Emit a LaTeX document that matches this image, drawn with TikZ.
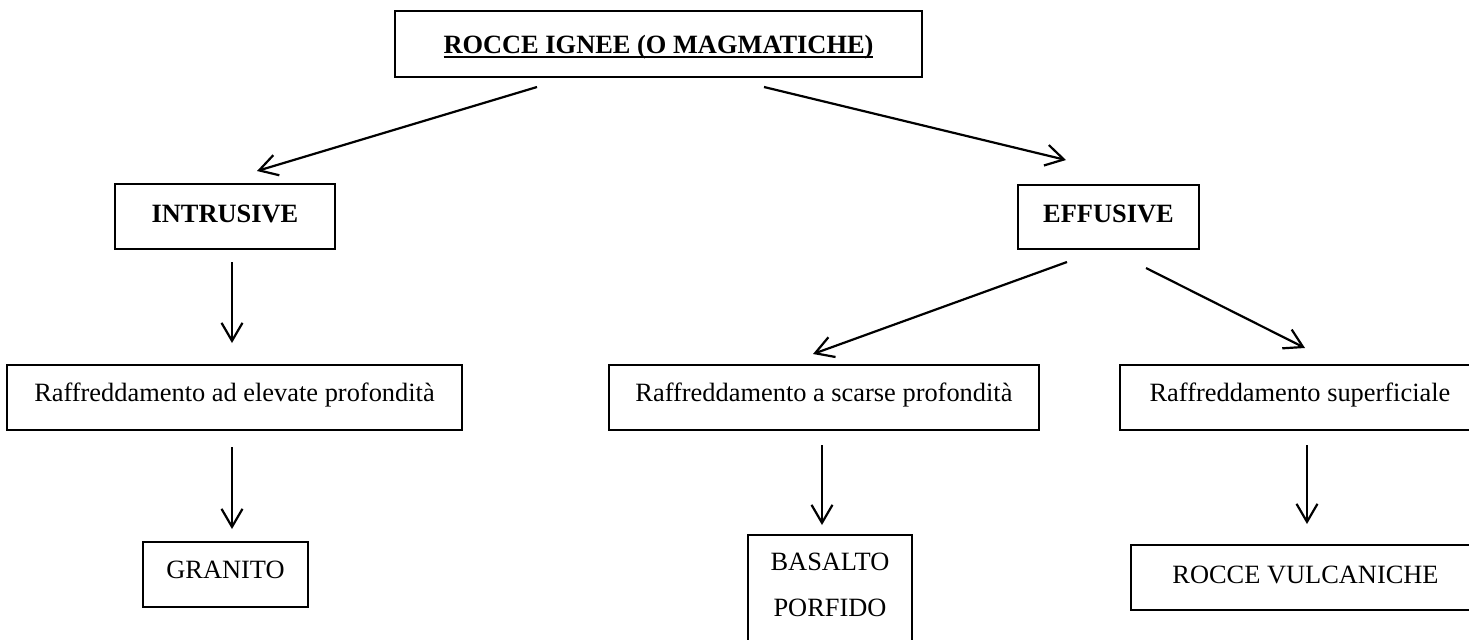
\documentclass[tikz,border=0pt]{standalone}
\usepackage{fontspec}
\setmainfont{Liberation Serif}
\usetikzlibrary{arrows.meta}

\newcommand{\ulbf}[1]{\setbox0\hbox{\bfseries #1}\rlap{\rule[-2.6pt]{\wd0}{1pt}}\box0}

\begin{document}
\begin{tikzpicture}[x=0.5pt,y=-0.5pt,
  box/.style={draw,line width=0.6pt,inner sep=0pt,anchor=base,
    font=\fontsize{13.2}{16}\selectfont},
  bold/.style={font=\fontsize{13.2}{16}\selectfont\bfseries},
  mid/.style={text height=18pt,text depth=14.5pt},
  arr/.style={line width=1.1pt,-{Straight Barb[length=9pt,width=10.5pt]}}]
\useasboundingbox (0,0) rectangle (1469,639);
\clip (0,0) rectangle (1469,639);

% boxes
\node[box,bold,minimum width=263.5pt,text height=21pt,text depth=12pt] (rocce) at (658.5,53) {\ulbf{ROCCE IGNEE (O MAGMATICHE)}};
\node[box,bold,minimum width=110pt,text height=19pt,text depth=13.5pt] (intr) at (225,222) {INTRUSIVE};
\node[box,bold,minimum width=90.5pt,text height=18.5pt,text depth=13.5pt] (effu) at (1108.5,222) {EFFUSIVE};
\node[box,mid,minimum width=227.5pt] (elev) at (234.5,401) {Raffreddamento ad elevate profondità};
\node[box,mid,minimum width=215pt] (scarse) at (824,401) {Raffreddamento a scarse profondità};
\node[box,mid,minimum width=180pt] (superf) at (1300,401) {Raffreddamento superficiale};
\node[box,minimum width=82.5pt,text height=18pt,text depth=14.5pt] (granito) at (225.5,578) {GRANITO};
\node[box,minimum width=82pt,text height=17.5pt,text depth=50pt] (basalto) at (830,570) {\begin{tabular}[t]{@{}c@{}}BASALTO\\[7pt]PORFIDO\end{tabular}};
\node[box,minimum width=174.5pt,text height=19pt,text depth=13.5pt] (vulc) at (1305.5,583) {ROCCE VULCANICHE};

% arrow ends
\coordinate[] (rocce-l) at (537,87);
\coordinate[] (rocce-r) at (764,87);
\coordinate[] (intr-in) at (257,171);
\coordinate[] (intr-out) at (232,262);
\coordinate[] (effu-in) at (1066,160);
\coordinate[] (effu-l) at (1067,262);
\coordinate[] (effu-r) at (1146,268);
\coordinate[] (elev-in) at (232,343);
\coordinate[] (elev-out) at (232,447);
\coordinate[] (scarse-in) at (813,354);
\coordinate[] (scarse-out) at (822,445);
\coordinate[] (superf-in) at (1305,348);
\coordinate[] (superf-out) at (1307,445);
\coordinate[] (granito-in) at (232,529);
\coordinate[] (basalto-in) at (822,525);
\coordinate[] (vulc-in) at (1307,524);

\draw[arr] (rocce-l) -- (intr-in);
\draw[arr] (rocce-r) -- (effu-in);
\draw[arr] (intr-out) -- (elev-in);
\draw[arr] (elev-out) -- (granito-in);
\draw[arr] (effu-l) -- (scarse-in);
\draw[arr] (effu-r) -- (superf-in);
\draw[arr] (scarse-out) -- (basalto-in);
\draw[arr] (superf-out) -- (vulc-in);
\end{tikzpicture}
\end{document}
